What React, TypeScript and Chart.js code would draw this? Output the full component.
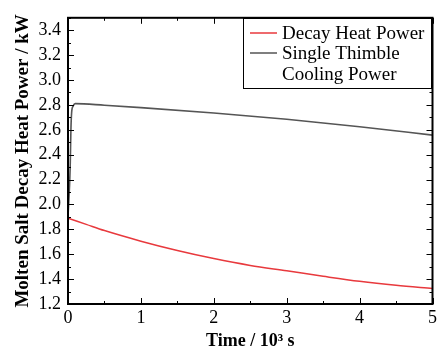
import React, { useEffect, useRef } from "react";
import { Chart, registerables } from "chart.js";

Chart.register(...registerables);

const decayTime = [0, 0.25, 0.5, 1, 1.5, 2, 2.5, 3, 3.5, 4, 4.5, 5];
const decayPower = [1.89, 1.84, 1.79, 1.705, 1.63, 1.565, 1.51, 1.467, 1.423, 1.382, 1.35, 1.325];
const coolTime = [0, 0.03, 0.04, 0.05, 0.07, 0.1, 0.5, 1, 2, 3, 4, 5];
const coolPower = [1.9, 2.3, 2.6, 2.74, 2.79, 2.81, 2.797, 2.778, 2.735, 2.685, 2.625, 2.557];
const xTicks = [0, 1, 2, 3, 4, 5];
const yTicks = [1.2, 1.4, 1.6, 1.8, 2.0, 2.2, 2.4, 2.6, 2.8, 3.0, 3.2, 3.4];
const legendLabels = ["Decay Heat Power", "Single Thimble", "Cooling Power"];
const xTitle = "Time / 10\u00B3 s";
const yTitle = "Molten Salt Decay Heat Power / kW";

const RED = "#e8393d";
const GRAY = "#555555";
const FONT = "'Liberation Serif', 'Times New Roman', serif";

const frame = {
  id: "frame",
  afterDatasetsDraw(chart: any) {
    const { ctx, chartArea: a, scales } = chart;
    const xs = scales.x, ys = scales.y;
    ctx.save();
    ctx.strokeStyle = "#000";
    ctx.lineWidth = 1;
    const major = 6, minor = 3;
    for (let v = 0; v <= 5.0001; v += 0.5) {
      const px = Math.round(xs.getPixelForValue(v)) + 0.5;
      const len = Math.abs(v - Math.round(v)) < 1e-6 ? major : minor;
      ctx.beginPath();
      ctx.moveTo(px, a.bottom); ctx.lineTo(px, a.bottom - len);
      ctx.moveTo(px, a.top); ctx.lineTo(px, a.top + len);
      ctx.stroke();
    }
    for (let i = 0; i <= 23; i++) {
      const v = 1.2 + i * 0.1;
      const py = Math.round(ys.getPixelForValue(v)) + 0.5;
      const len = i % 2 === 0 ? major : minor;
      ctx.beginPath();
      ctx.moveTo(a.left, py); ctx.lineTo(a.left + len, py);
      ctx.moveTo(a.right, py); ctx.lineTo(a.right - len, py);
      ctx.stroke();
    }
    ctx.lineWidth = 2;
    ctx.strokeRect(a.left, a.top, a.right - a.left, a.bottom - a.top);
    const lx = 243, ly = 18, lw = 188, lh = 70;
    ctx.fillStyle = "#fff";
    ctx.fillRect(lx, ly, lw, lh);
    ctx.lineWidth = 1;
    ctx.strokeStyle = "#000";
    ctx.strokeRect(lx + 0.5, ly + 0.5, lw, lh);
    ctx.font = "19px " + FONT;
    ctx.fillStyle = "#000";
    ctx.textBaseline = "middle";
    const rows = [33, 53, 74];
    ctx.lineWidth = 1.5;
    ctx.strokeStyle = RED;
    ctx.beginPath(); ctx.moveTo(250, rows[0]); ctx.lineTo(277, rows[0]); ctx.stroke();
    ctx.strokeStyle = GRAY;
    ctx.beginPath(); ctx.moveTo(250, rows[1]); ctx.lineTo(277, rows[1]); ctx.stroke();
    legendLabels.forEach((t, i) => ctx.fillText(t, 282, rows[i] + 1));
    ctx.restore();
  },
};

export default function App() {
  const ref = useRef<HTMLCanvasElement>(null);
  useEffect(() => {
    let chart: any = null;
    let cancelled = false;
    const make = () => {
      if (cancelled) return;
      chart = new Chart(ref.current!, {
        type: "line",
        data: {
          datasets: [
            {
              label: "Single Thimble Cooling Power",
              data: coolTime.map((t, i) => ({ x: t, y: coolPower[i] })),
              borderColor: GRAY,
              borderWidth: 1.6,
              pointRadius: 0,
              cubicInterpolationMode: "monotone",
            },
            {
              label: "Decay Heat Power",
              data: decayTime.map((t, i) => ({ x: t, y: decayPower[i] })),
              borderColor: RED,
              borderWidth: 1.5,
              pointRadius: 0,
              cubicInterpolationMode: "monotone",
            },
          ],
        },
        options: {
          animation: false,
          responsive: false,
          layout: { padding: { top: 8, right: 3, left: 0, bottom: 0 } },
          plugins: { legend: { display: false }, tooltip: { enabled: false } },
          scales: {
            x: {
              type: "linear",
              min: 0,
              max: 5,
              afterBuildTicks: (s: any) => { s.ticks = xTicks.map((v) => ({ value: v })); },
              afterFit: (s: any) => { s.height = 48; },
              grid: { display: false, drawTicks: false },
              border: { display: false },
              ticks: { color: "#000", font: { family: FONT, size: 18 }, padding: 3, maxRotation: 0 },
              title: {
                display: true,
                text: xTitle,
                color: "#000",
                font: { family: FONT, size: 18, weight: "bold" },
                padding: { top: 0, bottom: 0 },
              },
            },
            y: {
              type: "linear",
              min: 1.2,
              max: 3.5,
              afterBuildTicks: (s: any) => { s.ticks = yTicks.map((v) => ({ value: v })); },
              afterFit: (s: any) => { s.width = 68; },
              grid: { display: false, drawTicks: false },
              border: { display: false },
              ticks: {
                color: "#000",
                font: { family: FONT, size: 18 },
                padding: 7,
                callback: (v: any) => Number(v).toFixed(1),
              },
              title: {
                display: true,
                text: yTitle,
                color: "#000",
                font: { family: FONT, size: 19, weight: "bold" },
                padding: { top: 12, bottom: 0 },
              },
            },
          },
        },
        plugins: [frame],
      });
    };
    const fonts: any = (document as any).fonts;
    if (fonts && fonts.load) {
      Promise.all([
        fonts.load("18px 'Liberation Serif'"),
        fonts.load("bold 18px 'Liberation Serif'"),
      ]).then(make, make);
    } else make();
    return () => {
      cancelled = true;
      if (chart) chart.destroy();
    };
  }, []);
  return (
    <div style={{ position: "fixed", left: 0, top: 0, width: 440, height: 352, background: "#fff" }}>
      <canvas ref={ref} width={440} height={352} style={{ width: 440, height: 352 }} />
    </div>
  );
}
